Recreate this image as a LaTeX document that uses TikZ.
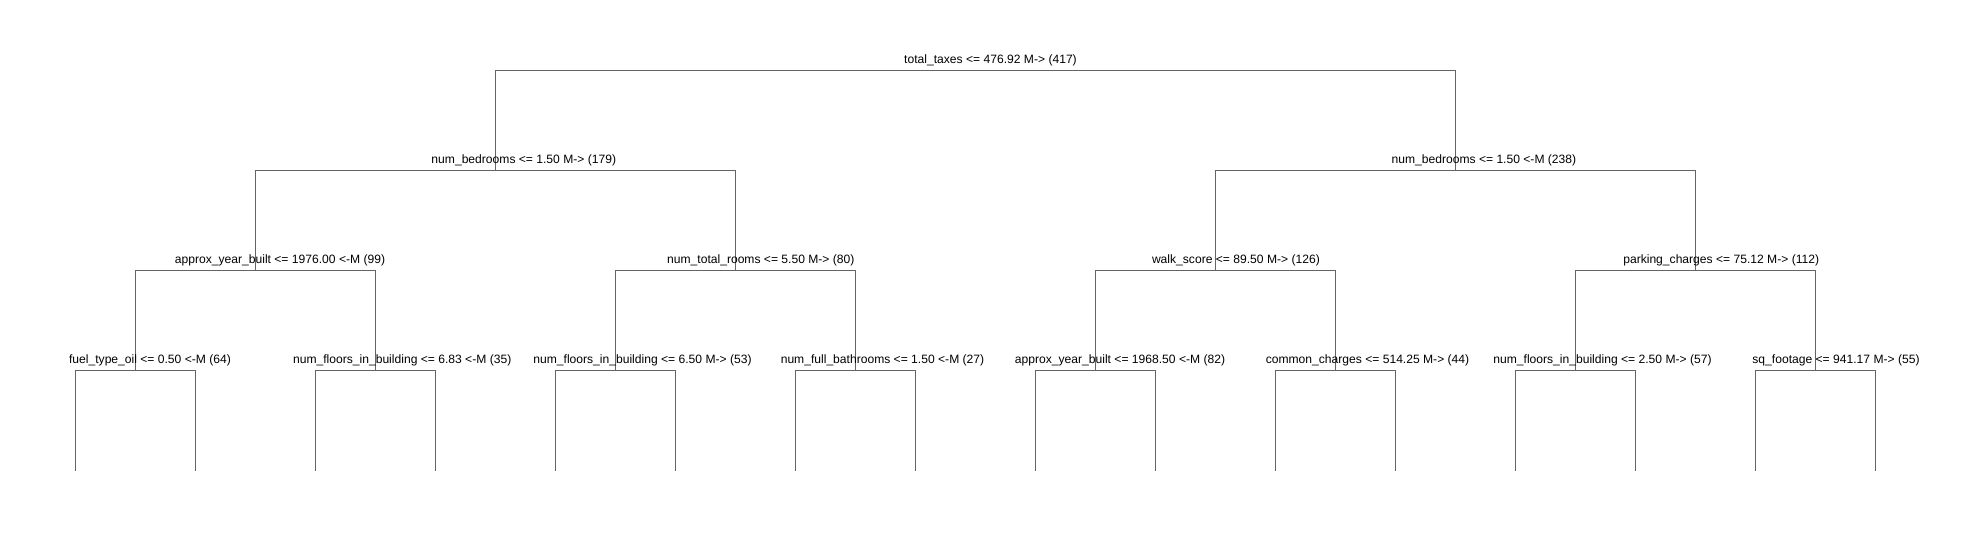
\documentclass[tikz,border=0pt]{standalone}
\usepackage{fontspec}
\setmainfont{Liberation Sans}
\definecolor{linegray}{RGB}{100,100,100}
\tikzset{
  branch/.style={draw=linegray, line width=1pt},
  lbl/.style={anchor=base, inner sep=0pt, text=black, font=\fontsize{12.1}{14}\selectfont}
}
\begin{document}
\begin{tikzpicture}[x=1pt,y=-1pt]
\useasboundingbox (0,0) rectangle (1988,540);
% split points
\coordinate (r) at (975.5,70.5);
\foreach \i in {0,1} \coordinate (a\i) at ({495.5+960*\i},170.5);
\foreach \i in {0,...,3} \coordinate (b\i) at ({255.5+480*\i},270.5);
\foreach \i in {0,...,7} \coordinate (c\i) at ({135.5+240*\i},370.5);
\foreach \i in {0,...,15} \coordinate (d\i) at ({75.5+120*\i},470.5);
% connectors
\draw[branch] (a0) |- (r) -| (a1);
\draw[branch] (b0) |- (a0) -| (b1);
\draw[branch] (b2) |- (a1) -| (b3);
\foreach \i [evaluate=\i as \l using int(2*\i), evaluate=\i as \m using int(2*\i+1)] in {0,...,3}
  \draw[branch] (c\l) |- (b\i) -| (c\m);
\foreach \i [evaluate=\i as \l using int(2*\i), evaluate=\i as \m using int(2*\i+1)] in {0,...,7}
  \draw[branch] (d\l) |- (c\i) -| (d\m);
% labels
\node[lbl] (tr) at (990.5,63.5) {total\_taxes <= 476.92 M-> (417)};
\node[lbl] (ta0) at (523.8,163.5) {num\_bedrooms <= 1.50 M-> (179)};
\node[lbl] (ta1) at (1483.9,163.5) {num\_bedrooms <= 1.50 <-M (238)};
\node[lbl] (tb0) at (280,263.5) {approx\_year\_built <= 1976.00 <-M (99)};
\node[lbl] (tb1) at (760.8,263.5) {num\_total\_rooms <= 5.50 M-> (80)};
\node[lbl] (tb2) at (1235.9,263.5) {walk\_score <= 89.50 M-> (126)};
\node[lbl] (tb3) at (1721.2,263.5) {parking\_charges <= 75.12 M-> (112)};
\node[lbl] (tc0) at (150,363.5) {fuel\_type\_oil <= 0.50 <-M (64)};
\node[lbl] (tc1) at (402.2,363.5) {num\_floors\_in\_building <= 6.83 <-M (35)};
\node[lbl] (tc2) at (642.5,363.5) {num\_floors\_in\_building <= 6.50 M-> (53)};
\node[lbl] (tc3) at (882.5,363.5) {num\_full\_bathrooms <= 1.50 <-M (27)};
\node[lbl] (tc4) at (1120,363.5) {approx\_year\_built <= 1968.50 <-M (82)};
\node[lbl] (tc5) at (1367.5,363.5) {common\_charges <= 514.25 M-> (44)};
\node[lbl] (tc6) at (1602.5,363.5) {num\_floors\_in\_building <= 2.50 M-> (57)};
\node[lbl] (tc7) at (1836,363.5) {sq\_footage <= 941.17 M-> (55)};
\end{tikzpicture}
\end{document}
